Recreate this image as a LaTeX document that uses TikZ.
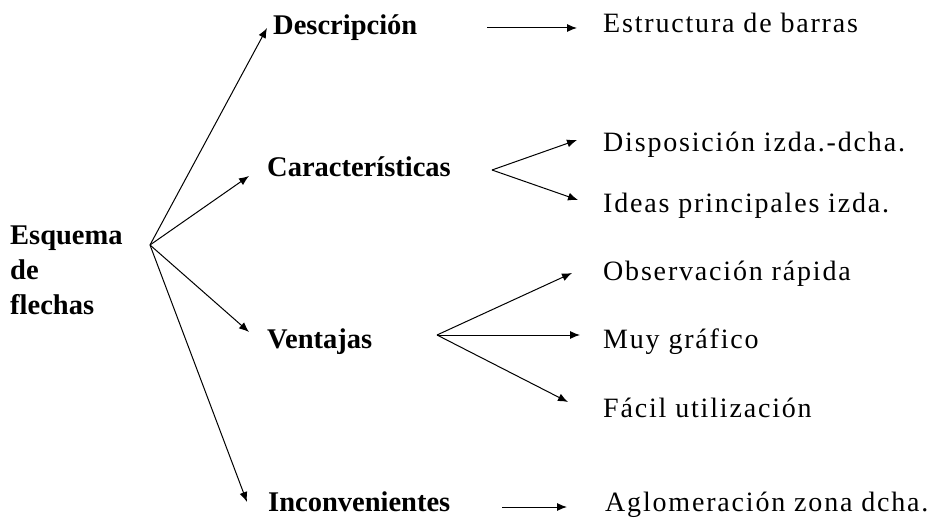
\documentclass[tikz,border=0pt]{standalone}
\usepackage{fontspec}
\setmainfont{Liberation Serif}
\newfontfamily\ideafont[LetterSpace=6.5]{Liberation Serif}
\usetikzlibrary{arrows.meta}

\begin{document}
\begin{tikzpicture}[x=1pt, y=-1pt,
		tema/.style={inner sep=0pt, anchor=base west, font=\fontsize{28.5}{35}\selectfont\bfseries},
		idea/.style={inner sep=0pt, anchor=base west, font=\fontsize{28}{30}\ideafont},
		flecha/.style={line width=1pt, -{Latex[length=10pt,width=8pt]}}]
		\useasboundingbox (0,0) rectangle (931,521);

		% centro
		\node[tema, anchor=west, align=left] (esq) at (10,270) {Esquema\\de\\flechas};
		\coordinate (hub) at (150,245);

		% ramas
		\node[tema] (desc)	at (273,35)		{Descripción};
		\node[tema] (car)	at (267,177)	{Características};
		\node[tema] (ven)	at (267,348)	{Ventajas};
		\node[tema] (inc)	at (268,511)	{Inconvenientes};

		% ideas
		\node[idea] (estr)	at (603,33)		{Estructura de barras};
		\node[idea] (disp)	at (603,152)	{Disposición izda.-dcha.};
		\node[idea] (izda)	at (603,213)	{Ideas principales izda.};
		\node[idea] (obs)	at (603,280)	{Observación rápida};
		\node[idea] (muy)	at (603,348)	{Muy gráfico};
		\node[idea] (fac)	at (603,417)	{Fácil utilización};
		\node[idea] (aglo)	at (605,511)	{Aglomeración zona dcha.};

		\coordinate (fcar) at ([shift={(225,-7)}]car.base west);
		\coordinate (fven) at ([shift={(170,-13)}]ven.base west);

		\draw[flecha]	(hub) to ([shift={(-6,-7)}]desc.base west);
		\draw[flecha]	(hub) to ([shift={(-18,-1)}]car.base west);
		\draw[flecha]	(hub) to ([shift={(-18,-16)}]ven.base west);
		\draw[flecha]	(hub) to ([shift={(-21,-9)}]inc.base west);

		\draw[flecha]	([shift={(214,-7)}]desc.base west) to ([shift={(-26,-5)}]estr.base west);
		\draw[flecha]	(fcar) to ([shift={(-26,-12)}]disp.base west);
		\draw[flecha]	(fcar) to ([shift={(-25,-13)}]izda.base west);
		\draw[flecha]	(fven) to ([shift={(-31,-7)}]obs.base west);
		\draw[flecha]	(fven) to ([shift={(-23,-13)}]muy.base west);
		\draw[flecha]	(fven) to ([shift={(-35,-15)}]fac.base west);
		\draw[flecha]	([shift={(234,-4)}]inc.base west) to ([shift={(-38,-4)}]aglo.base west);
	\end{tikzpicture}
\end{document}
